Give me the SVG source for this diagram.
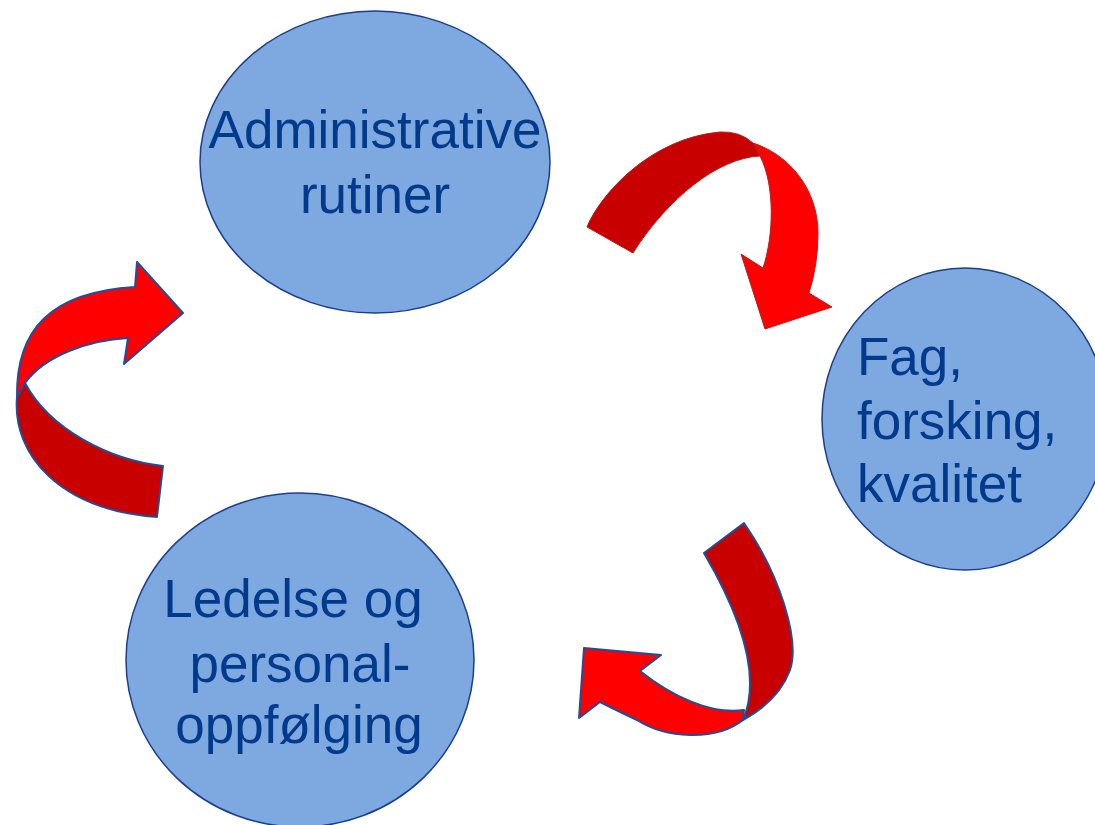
<svg xmlns="http://www.w3.org/2000/svg" width="1095" height="825" viewBox="0 0 1095 825">
<style>
.node{fill:#7EA8E0;stroke:#1B3E8C;stroke-width:1.5}
.lbl{font-family:"Liberation Sans",Arial,sans-serif;font-size:53px;fill:#003A8C}
.dk{fill:#C80000}
.rd{fill:#FF0000}
.bs{stroke:#1F4E9A;stroke-width:2;stroke-linejoin:round}
.rs{stroke:#B02020;stroke-width:1;stroke-linejoin:round}
</style>
<rect width="1095" height="825" fill="#FFFFFF"/>
<g id="connectors">
  <g id="arrow-top-right">
    <path class="dk rs" d="M587,227 C600,195 650,138 720,132 Q740,131 753,143 L760,156 C718,158 668,198 633,253 Z"/>
    <path class="rd rs" d="M753,143 C790,155 818,190 818,233 Q818,265 809,293 L832,307 L765,329 L741,254 L763,268 C774,235 775,185 760,156 Z"/>
  </g>
  <g id="arrow-bottom-right">
    <path class="dk bs" d="M704,553 L744,523 C780,575 800,640 790,670 C782,692 765,708 743,720 C756,690 755,640 704,553 Z"/>
    <path class="rd bs" d="M743,720 C715,742 665,738 637,720 C620,712 610,707 600,702 L579,718 L584,648 L661,655 L640,671 C670,695 710,715 744,710 Z"/>
  </g>
  <g id="arrow-left">
    <path class="dk bs" d="M25,383 L17,397 C12,455 60,510 157,517 L163,466 C110,460 50,430 25,383 Z"/>
    <path class="rd bs" d="M17,397 C16,330 50,292 135,287 L137,262 L183,313 L124,364 L128,338 C90,340 45,355 25,383 Z"/>
  </g>
</g>
<g id="node-administrative">
  <ellipse class="node" cx="375" cy="162" rx="175" ry="151"/>
  <text class="lbl" text-anchor="middle"><tspan x="375" y="148">Administrative</tspan><tspan x="375" y="213">rutiner</tspan></text>
</g>
<g id="node-fag">
  <ellipse class="node" cx="965" cy="419" rx="143" ry="151"/>
  <text class="lbl"><tspan x="857" y="375">Fag,</tspan><tspan x="857" y="439">forsking,</tspan><tspan x="857" y="502">kvalitet</tspan></text>
</g>
<g id="node-ledelse">
  <ellipse class="node" cx="300" cy="660" rx="174" ry="167"/>
  <text class="lbl" text-anchor="middle"><tspan x="293" y="617">Ledelse og</tspan><tspan x="300" y="682">personal-</tspan><tspan x="299" y="743">oppfølging</tspan></text>
</g>
</svg>
